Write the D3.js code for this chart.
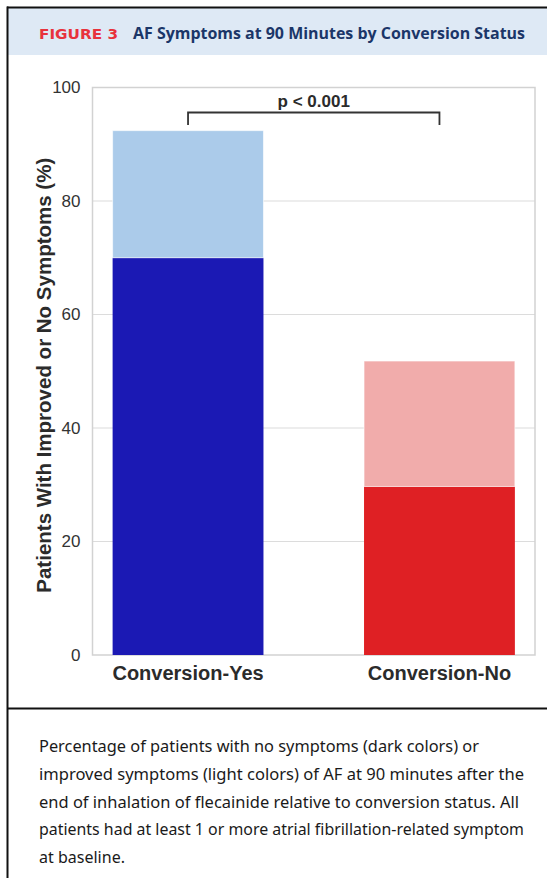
<!DOCTYPE html>
<html>
<head>
<meta charset="utf-8">
<script src="https://cdn.jsdelivr.net/npm/d3@7.9.0/dist/d3.min.js"></script>
<style>
  body { margin: 0; background: #fff; }
  svg { display: block; }
</style>
</head>
<body>
<svg id="chart" width="547" height="878"></svg>
<script>
// data
const categories = ['Conversion-Yes', 'Conversion-No'];
const noSymptoms = [70.0, 29.7];      // dark part
const improvedSymptoms = [22.4, 22.1]; // light part, stacked on top
const yTicks = [0, 20, 40, 60, 80, 100];
const darkColors = ['#1b19b4', '#df2024'];
const lightColors = ['#abcbea', '#f1acab'];
const pLabel = 'p < 0.001';
const captionLines = [
  'Percentage of patients with no symptoms (dark colors) or',
  'improved symptoms (light colors) of AF at 90 minutes after the',
  'end of inhalation of flecainide relative to conversion status. All',
  'patients had at least 1 or more atrial fibrillation-related symptom',
  'at baseline.'
];
const captionWidths = [440, 485, 480, 485, 86];

const svg = d3.select('#chart');

// frame of the figure
svg.append('rect').attr('x', 8).attr('y', 8).attr('width', 539).attr('height', 47)
  .attr('fill', '#dee9f5');
svg.append('line').attr('x1', 7).attr('x2', 547).attr('y1', 7.5).attr('y2', 7.5)
  .attr('stroke', '#111').attr('stroke-width', 2);
svg.append('line').attr('x1', 7.5).attr('x2', 7.5).attr('y1', 6.5).attr('y2', 878)
  .attr('stroke', '#111').attr('stroke-width', 2);
svg.append('line').attr('x1', 7).attr('x2', 547).attr('y1', 708.5).attr('y2', 708.5)
  .attr('stroke', '#111').attr('stroke-width', 2);

// header
svg.append('text').attr('x', 39).attr('y', 39)
  .attr('font-family', 'DejaVu Sans').attr('font-weight', 'bold').attr('font-size', 14.5)
  .attr('fill', '#e8323c').attr('textLength', 79).attr('lengthAdjust', 'spacingAndGlyphs')
  .text('FIGURE 3');
svg.append('text').attr('x', 133).attr('y', 39)
  .attr('font-family', 'Open Sans').attr('font-weight', 'bold').attr('font-size', 15.5)
  .attr('fill', '#1b3668').attr('textLength', 392).attr('lengthAdjust', 'spacingAndGlyphs')
  .text('AF Symptoms at 90 Minutes by Conversion Status');

// scales
const x = d3.scaleBand().domain(categories).range([92.5, 535]).paddingInner(0.4).paddingOuter(0.08);
const y = d3.scaleLinear().domain([0, 100]).range([655, 87.5]);

const plot = svg.append('g');

// gridlines
plot.selectAll('.grid').data(yTicks.filter(d => d > 0 && d < 100)).join('line')
  .attr('x1', 92.5).attr('x2', 535)
  .attr('y1', d => y(d)).attr('y2', d => y(d))
  .attr('stroke', '#dcdcdc').attr('stroke-width', 1.2);

// plot frame
plot.append('rect').attr('x', 92.5).attr('y', y(100)).attr('width', 535 - 92.5).attr('height', y(0) - y(100))
  .attr('fill', 'none').attr('stroke', '#d2d2d2').attr('stroke-width', 1.5);

// y axis labels
const yAxis = plot.append('g').attr('transform', 'translate(92.5,0)')
  .call(d3.axisLeft(y).tickValues(yTicks).tickSize(0).tickPadding(12));
yAxis.select('.domain').remove();
yAxis.selectAll('text').attr('font-family', 'Liberation Sans').attr('font-size', 17).attr('fill', '#333');

// stacked bars
const rows = categories.map((c, i) => ({ cat: c, dark: noSymptoms[i], light: improvedSymptoms[i], i }));
plot.selectAll('.dark').data(rows).join('rect')
  .attr('x', d => x(d.cat)).attr('width', x.bandwidth())
  .attr('y', d => y(d.dark)).attr('height', d => y(0) - y(d.dark))
  .attr('fill', d => darkColors[d.i]);
plot.selectAll('.light').data(rows).join('rect')
  .attr('x', d => x(d.cat)).attr('width', x.bandwidth())
  .attr('y', d => y(d.dark + d.light)).attr('height', d => y(d.dark) - y(d.dark + d.light))
  .attr('fill', d => lightColors[d.i])
  .attr('stroke', '#fff').attr('stroke-opacity', 0.6).attr('stroke-width', 1);

// x axis labels
const xAxis = plot.append('g').attr('transform', `translate(0,${y(0)})`)
  .call(d3.axisBottom(x).tickSize(0).tickPadding(11));
xAxis.select('.domain').remove();
xAxis.selectAll('text').attr('font-family', 'Liberation Sans').attr('font-weight', 'bold')
  .attr('font-size', 20).attr('fill', '#2b2b2b');

// y axis title
svg.append('text')
  .attr('transform', `translate(51,${(y(0) + y(100)) / 2 + 4}) rotate(-90)`)
  .attr('text-anchor', 'middle')
  .attr('font-family', 'Liberation Sans').attr('font-weight', 'bold').attr('font-size', 20.5)
  .attr('fill', '#2b2b2b')
  .text('Patients With Improved or No Symptoms (%)');

// significance bracket
const bx1 = x(categories[0]) + x.bandwidth() / 2;
const bx2 = x(categories[1]) + x.bandwidth() / 2;
const bTop = 112.5, bBottom = 125;
plot.append('path')
  .attr('d', `M${bx1},${bBottom}V${bTop}H${bx2}V${bBottom}`)
  .attr('fill', 'none').attr('stroke', '#333').attr('stroke-width', 1.8);
plot.append('text').attr('x', (bx1 + bx2) / 2).attr('y', 106.5)
  .attr('text-anchor', 'middle')
  .attr('font-family', 'Liberation Sans').attr('font-weight', 'bold').attr('font-size', 17)
  .attr('fill', '#2b2b2b').text(pLabel);

// caption
svg.append('g').selectAll('text').data(captionLines).join('text')
  .attr('x', 39).attr('y', (d, i) => 752 + i * 27.8)
  .attr('font-family', 'Noto Sans').attr('font-size', 15.5).attr('fill', '#1a1a1a')
  .attr('textLength', (d, i) => captionWidths[i]).attr('lengthAdjust', 'spacingAndGlyphs')
  .text(d => d);
</script>
</body>
</html>
